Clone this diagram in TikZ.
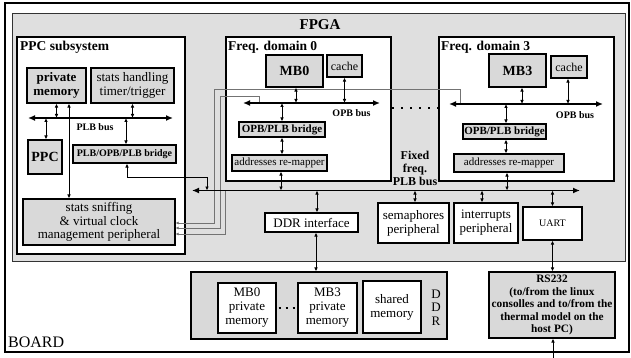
\documentclass[tikz,border=0pt]{standalone}
\usepackage{fontspec}
\setmainfont{Liberation Serif}
\usetikzlibrary{arrows.meta}
\definecolor{fpgagray}{gray}{0.875}
\definecolor{boxgray}{gray}{0.85}
\definecolor{wiregray}{gray}{0.45}
\newcommand\fsz[2]{\fontsize{#1}{#2}\selectfont}
\begin{document}
\begin{tikzpicture}[x=1pt,y=-1pt,
  box/.style={draw, line width=1.1pt, inner sep=0pt, align=center, fill=white},
  gbox/.style={box, fill=boxgray},
  cont/.style={draw, line width=1.1pt},
  dar/.style={line width=0.8pt, {Latex[length=4pt,width=3.6pt]}-{Latex[length=4pt,width=3.6pt]}},
  sar/.style={line width=0.8pt, -{Latex[length=4pt,width=3.6pt]}},
  bus/.style={line width=1.8pt, {Latex[length=7pt,width=6pt]}-{Latex[length=7pt,width=6pt]}},
  gline/.style={draw=wiregray, line width=0.8pt, {Latex[length=3pt,width=3pt]}-},
  dots/.style={line width=2.2pt, dash pattern=on 2pt off 7pt},
  lbl/.style={inner sep=0pt, anchor=west}
]
\useasboundingbox (0,0) rectangle (631,358);
% board and FPGA containers
\draw[line width=1.5pt] (5,3) rectangle (629,352);
\draw[line width=1pt, fill=fpgagray, draw=black!80] (12,14) rectangle (625,261);
\node[inner sep=0pt, font=\fsz{15}{16}\bfseries] (fpgalbl) at (320,25) {FPGA};
\node[inner sep=0pt, anchor=base west, font=\fsz{16}{17}] (boardlbl) at (8,347.5) {BOARD};

% PPC subsystem
\draw[cont, fill=white] (17,37) rectangle (185,254);
\node[lbl, font=\fsz{13.5}{14}\bfseries] (ppclbl) at (20,47) {PPC subsystem};
% Freq domains
\draw[cont, fill=white] (226,37) rectangle (391,181);
\node[lbl, font=\fsz{13.5}{14}\bfseries] (fd0lbl) at (228,47) {Freq. domain 0};
\draw[cont, fill=white] (439,37) rectangle (614,181);
\node[lbl, font=\fsz{13.5}{14}\bfseries] (fd3lbl) at (441,47) {Freq. domain 3};

% bus coordinates
\coordinate (plb1L) at (28,118);   \coordinate (plb1R) at (173,118);
\coordinate (opb0L) at (243,103);  \coordinate (opb0R) at (380,103);
\coordinate (opb3L) at (449,104);  \coordinate (opb3R) at (603,104);
\coordinate (plbL) at (192,190.5); \coordinate (plbR) at (580,190.5);
\coordinate (g1) at (214,89);  \coordinate (g1b) at (460,89);
\coordinate (g2) at (220,96.5);  \coordinate (g2b) at (259,96.5);
\coordinate (g3) at (225,190.5);
\coordinate (pbturn) at (207,177);
\coordinate (dotL) at (392,108); \coordinate (dotR) at (439,108);
\coordinate (rsin) at (553,358);

% PPC subsystem nodes
\node[gbox, minimum width=59pt, minimum height=35pt, font=\fsz{13}{14}\bfseries] (pm) at (56.5,85.5) {private\\memory};
\node[gbox, minimum width=83pt, minimum height=35pt, font=\fsz{13}{14}] (sh) at (132.5,85.5) {stats handling\\timer/trigger};
\node[gbox, minimum width=34pt, minimum height=34pt, font=\fsz{14}{15}\bfseries] (ppc) at (45,157) {PPC};
\node[gbox, minimum width=103pt, minimum height=18pt, font=\fsz{10}{11}\bfseries] (pob) at (124.5,154) {PLB/OPB/PLB bridge};
\node[gbox, minimum width=152pt, minimum height=46pt, font=\fsz{13}{13.5}] (ss) at (99,222) {stats sniffing\\\& virtual clock\\management peripheral};
\node[inner sep=0pt, font=\fsz{10}{11}\bfseries] (plb1lbl) at (95,127.5) {PLB bus};

% Freq domain 0 nodes
\node[gbox, minimum width=57pt, minimum height=32pt, font=\fsz{14}{15}\bfseries] (mb0) at (294.5,71) {MB0};
\node[gbox, minimum width=35pt, minimum height=22pt, font=\fsz{12}{13}] (c0) at (344.5,66) {cache};
\node[gbox, minimum width=86pt, minimum height=15pt, font=\fsz{11}{12}\bfseries] (b0) at (282,129.5) {OPB/PLB bridge};
\node[gbox, minimum width=95pt, minimum height=16pt, font=\fsz{11}{12}] (a0) at (279.5,163) {addresses re-mapper};
\node[inner sep=0pt, font=\fsz{10}{11}\bfseries] (opb0lbl) at (351.5,113) {OPB bus};

% Freq domain 3 nodes
\node[gbox, minimum width=57pt, minimum height=33pt, font=\fsz{14}{15}\bfseries] (mb3) at (517.5,70.5) {MB3};
\node[gbox, minimum width=36pt, minimum height=22pt, font=\fsz{12}{13}] (c3) at (569,67) {cache};
\node[gbox, minimum width=83pt, minimum height=15pt, font=\fsz{11}{12}\bfseries] (b3) at (504.5,131.5) {OPB/PLB bridge};
\node[gbox, minimum width=110pt, minimum height=18pt, font=\fsz{11}{12}] (a3) at (509,163) {addresses re-mapper};
\node[inner sep=0pt, font=\fsz{10}{11}\bfseries] (opb3lbl) at (575,115) {OPB bus};

% fixed PLB label
\node[inner sep=0pt, align=center, font=\fsz{12}{13}\bfseries] (fixlbl) at (415,168) {Fixed\\freq.\\PLB bus};

% peripherals
\node[box, minimum width=93pt, minimum height=19pt, font=\fsz{13}{14}] (ddr) at (311.5,222.5) {DDR interface};
\node[box, minimum width=71pt, minimum height=40pt, font=\fsz{13}{14}] (sem) at (413.5,223) {semaphores\\peripheral};
\node[box, minimum width=64pt, minimum height=40pt, font=\fsz{13}{14}] (intr) at (486,223) {interrupts\\peripheral};
\node[box, minimum width=59pt, minimum height=33pt, font=\fsz{10}{11}] (uart) at (552.5,223.5) {UART};

% DDR block
\node[gbox, minimum width=256pt, minimum height=67pt] (ddrblk) at (319,305.5) {};
\node[box, minimum width=58pt, minimum height=50pt, font=\fsz{13}{14}] (mb0pm) at (247,308) {MB0\\private\\memory};
\node[box, minimum width=59pt, minimum height=50pt, font=\fsz{13}{14}] (mb3pm) at (327.5,308) {MB3\\private\\memory};
\node[box, minimum width=58pt, minimum height=52pt, font=\fsz{13}{14}] (shm) at (392,307) {shared\\memory};
\node[inner sep=0pt, align=center, font=\fsz{13}{13.5}] (ddrlbl) at (436,307.5) {D\\D\\R};

% RS232
\node[gbox, minimum width=126pt, minimum height=66pt, font=\fsz{11.3}{12.5}\bfseries] (rs) at (552,305) {RS232\\(to/from the linux\\consolles and to/from the\\thermal model on the\\host PC)};

% gray wires to stats sniffing
\draw[gline] ([yshift=-1pt]ss.east) -| (g1) -- (g1b) -- (g1b |- opb3L);
\draw[gline] ([yshift=-6pt]ss.east) -| (g2) -- (g2b) -- (g2b |- opb0L);
\draw[gline] ([yshift=-12pt]ss.east) -| (g3);

% buses
\draw[bus] (plb1L) -- (plb1R);
\draw[bus] (opb0L) -- (opb0R);
\draw[bus] (opb3L) -- (opb3R);
\draw[bus] (plbL) -- (plbR);
\draw[dots] (dotL) -- (dotR);
\draw[line width=2.2pt, dash pattern=on 2pt off 5pt] ([xshift=2pt]mb0pm.east) -- ([xshift=-1pt]mb3pm.west);

% PPC connectors
\draw[dar] (pm.south) -- (pm.south |- plb1L);
\draw[dar] ([xshift=12.5pt]pm.south) -- ([xshift=12.5pt]pm.south |- ss.north);
\draw[dar] ([xshift=1pt]ppc.north) -- ([xshift=1pt]ppc.north |- plb1L);
\draw[dar] (sh.south) -- (sh.south |- plb1L);
\draw[dar] ([xshift=1.5pt]pob.north) -- ([xshift=1.5pt]pob.north |- plb1L);
\draw[dar] ([xshift=2.5pt]pob.south) |- (pbturn) -- (pbturn |- plbL);

% domain 0 connectors
\draw[dar] ([xshift=1.5pt]mb0.south) -- ([xshift=1.5pt]mb0.south |- opb0L);
\draw[dar] (c0.south) -- (c0.south |- opb0L);
\draw[dar] (b0.north |- opb0L) -- (b0.north);
\draw[dar] (b0.south) -- (b0.south |- a0.north);
\draw[dar] ([xshift=1.5pt]a0.south) -- ([xshift=1.5pt]a0.south |- plbL);

% domain 3 connectors
\draw[dar] ([xshift=4.5pt]mb3.south) -- ([xshift=4.5pt]mb3.south |- opb3L);
\draw[dar] ([xshift=-1pt]c3.south) -- ([xshift=-1pt]c3.south |- opb3L);
\draw[dar] ([xshift=1.5pt]b3.north |- opb3L) -- ([xshift=1.5pt]b3.north);
\draw[dar] ([xshift=1.5pt]b3.south) -- ([xshift=1.5pt]b3.south |- a3.north);
\draw[dar] ([xshift=-2pt]a3.south) -- ([xshift=-2pt]a3.south |- plbL);

% peripheral connectors
\draw[dar] ([xshift=5.5pt]ddr.north) -- ([xshift=5.5pt]ddr.north |- plbL);
\draw[dar] ([xshift=1.5pt]sem.north) -- ([xshift=1.5pt]sem.north |- plbL);
\draw[dar] ([xshift=-4pt]intr.north) -- ([xshift=-4pt]intr.north |- plbL);
\draw[dar] (uart.north) -- (uart.north |- plbL);
\draw[dar] ([xshift=4.5pt]ddr.south) -- ([xshift=4.5pt]ddr.south |- ddrblk.north);
\draw[dar] (uart.south) -- (uart.south |- rs.north);
\draw[sar] (rsin) -- (rsin |- rs.south);
\end{tikzpicture}
\end{document}
